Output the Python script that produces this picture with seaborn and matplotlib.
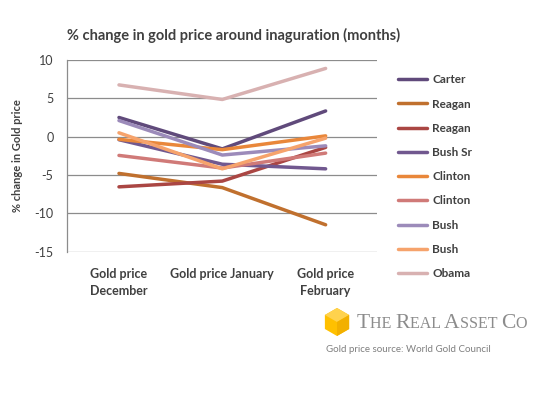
import matplotlib
matplotlib.use("Agg")
import matplotlib.pyplot as plt
import seaborn as sns
import pandas as pd
import numpy as np
from matplotlib.patches import Polygon
from matplotlib.offsetbox import TextArea, HPacker, AnnotationBbox

sns.set_style("white")
plt.rcParams['font.family'] = ['Lato', 'DejaVu Sans']

months = ["Gold price\nDecember", "Gold price January", "Gold price\nFebruary"]
names = ["Carter", "Reagan", "Reagan", "Bush Sr", "Clinton", "Clinton", "Bush", "Bush", "Obama"]
carter = [2.5, -1.6, 3.35]
reagan1 = [-4.8, -6.65, -11.5]
reagan2 = [-6.55, -5.8, -1.4]
bush_sr = [-0.4, -3.6, -4.2]
clinton1 = [-0.35, -1.7, 0.1]
clinton2 = [-2.45, -4.1, -2.15]
bush1 = [2.1, -2.4, -1.2]
bush2 = [0.5, -4.2, -0.2]
obama = [6.75, 4.85, 8.9]
series = [carter, reagan1, reagan2, bush_sr, clinton1, clinton2, bush1, bush2, obama]
colors = ["#604A7B", "#C0702E", "#AA4643", "#71588F", "#E9873A",
          "#D07A78", "#9C8BBA", "#F6A36C", "#D8B1B1"]
yticks = [10, 5, 0, -5, -10, -15]

fig = plt.figure(figsize=(5.46, 4.00), dpi=100)
ax = fig.add_axes([0.1233, 0.371, 0.5677, 0.479])

for i, (nm, vals) in enumerate(zip(names, series)):
    df = pd.DataFrame({"month": months, "value": vals})
    sns.lineplot(data=df, x="month", y="value", ax=ax, color=colors[i],
                 linewidth=2.5, label=nm, sort=False)

ax.set_xlim(-0.5, 2.5)
ax.set_ylim(-15, 10)
ax.set_yticks(yticks)
ax.set_yticklabels([str(v) for v in yticks], fontsize=9, color="#404040")
ax.set_xticks(range(3))
ax.set_xticklabels(months, fontsize=9, color="#404040", fontweight="bold",
                   linespacing=1.5)
ax.tick_params(axis="x", length=0, pad=12)
ax.tick_params(axis="y", length=0, pad=10)
ax.grid(axis="y", color="#8C8C8C", linewidth=0.9)
ax.set_axisbelow(True)
for s in ["top", "right", "bottom"]:
    ax.spines[s].set_visible(False)
ax.spines["left"].set_color("#8C8C8C")
ax.spines["left"].set_linewidth(0.9)
ax.set_xlabel("")
ax.set_ylabel("% change in Gold price", fontsize=8, color="#404040",
              fontweight="bold", labelpad=8)

leg = ax.legend(loc="upper left", bbox_to_anchor=(1.053, 0.95), frameon=False,
                fontsize=8.5, handlelength=2.4, handletextpad=0.45,
                labelspacing=1.12, borderaxespad=0)
for t in leg.get_texts():
    t.set_color("#404040")
    t.set_fontweight("bold")

fig.text(67 / 546, 1 - 35 / 400, "% change in gold price around inaguration (months)",
         fontsize=10.5, fontweight="bold", color="#404040", va="center", ha="left")

# logo cube
cx, cy, r = 337, 322, 14
ang = np.deg2rad(np.arange(0, 360, 60) + 30)
pts = [((cx + r * np.cos(a)) / 546, 1 - (cy - r * np.sin(a)) / 400) for a in ang]
fig.patches.append(Polygon(pts, closed=True, transform=fig.transFigure,
                           facecolor="#FFC000", edgecolor="none"))
c = (cx / 546, 1 - cy / 400)
top = [c, pts[0], pts[1], pts[2]]
fig.patches.append(Polygon(top, closed=True, transform=fig.transFigure,
                           facecolor="#FFD24D", edgecolor="none"))
right = [c, pts[0], pts[5], pts[4]]
fig.patches.append(Polygon(right, closed=True, transform=fig.transFigure,
                           facecolor="#F2B000", edgecolor="none"))

serif = "Liberation Serif"
big = dict(size=15.5, color="#8C8C8C", family=serif)
small = dict(size=11.5, color="#8C8C8C", family=serif)
parts = [("T", big), ("HE ", small), ("R", big), ("EAL ", small),
         ("A", big), ("SSET ", small), ("C", big), ("O", small)]
box = HPacker(children=[TextArea(t, textprops=p) for t, p in parts],
              align="baseline", pad=0, sep=0)
ab = AnnotationBbox(box, (357 / 546, 1 - 323 / 400), xycoords="figure fraction",
                    box_alignment=(0, 0.5), frameon=False, pad=0)
fig.add_artist(ab)

fig.text(326 / 546, 1 - 350 / 400, "Gold price source: World Gold Council",
         fontsize=7, color="#7F7F7F", va="center", ha="left")

fig.savefig("out.png", dpi=100, facecolor="white")
